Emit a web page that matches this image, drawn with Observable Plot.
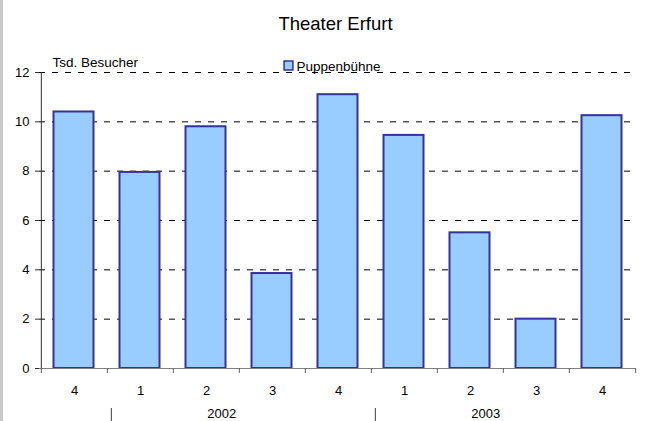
<!DOCTYPE html>
<html>
<head>
<meta charset="utf-8">
<script src="https://cdn.jsdelivr.net/npm/d3@7"></script>
<script src="https://cdn.jsdelivr.net/npm/@observablehq/plot@0.6"></script>
<style>
  html, body { margin: 0; padding: 0; background: #fff; }
  #wrap { position: relative; width: 666px; height: 421px; overflow: hidden; }
  #edge { position: absolute; left: 0; top: 0; width: 3px; height: 421px; background: #c8c8c8; }
</style>
</head>
<body>
<div id="wrap"><div id="edge"></div></div>
<script>
// ---- data ----
const quarters = ["4", "1", "2", "3", "4", "1", "2", "3", "4"];
const years = ["2001", "2002", "2002", "2002", "2002", "2003", "2003", "2003", "2003"];
const visitors = [10.4, 7.95, 9.8, 3.85, 11.1, 9.45, 5.5, 2.0, 10.25];
const yearLabels = ["2002", "2003"];
const yTicks = [0, 2, 4, 6, 8, 10, 12];
const title = "Theater Erfurt";
const seriesName = "Puppenbühne";
const yLabel = "Tsd. Besucher";

// ---- layout ----
const W = 666, H = 421;
const mL = 39, mR = 30, mT = 72, mB = 53;
const keys = quarters.map((q, i) => `${years[i]}-Q${q}`);
const step = (W - mL - mR) / keys.length;
const data = keys.map((k, i) => ({key: k, q: quarters[i], value: visitors[i]}));
const qOf = new Map(data.map(d => [d.key, d.q]));

// each year label sits near the middle of its quarters (group of 4 -> boundary after 2nd)
const yearGroups = yearLabels.map(y => {
  const idx = years.map((v, i) => v === y ? i : -1).filter(i => i >= 0);
  const c = idx[0] + (idx.length - 1) / 2;
  return {year: y, first: keys[idx[0]], key: keys[Math.floor(c)]};
});

const fill = "#99ccff", stroke = "#333399";
const font = "Liberation Sans, Arial, Helvetica, sans-serif";

const chart = Plot.plot({
  width: W, height: H,
  marginLeft: mL, marginRight: mR, marginTop: mT, marginBottom: mB,
  style: {fontFamily: font, fontSize: "13px", color: "#000", background: "transparent", overflow: "visible"},
  x: {type: "band", domain: keys, padding: 0},
  y: {domain: [0, 12]},
  marks: [
    Plot.gridY(yTicks.filter(t => t > 0), {stroke: "#000", strokeOpacity: 1, strokeDasharray: "6,7"}),
    Plot.barY(data, {x: "key", y: "value", fill, stroke, strokeWidth: 2, insetLeft: 12.5, insetRight: 13.5}),
    Plot.ruleY([0], {stroke: "#808080"}),
    Plot.ruleX([keys[0]], {dx: -step / 2, y1: 0, y2: 12, stroke: "#303030"}),
    Plot.ruleX(keys, {dx: -step / 2, y1: 0, y2: 0, insetBottom: -5, stroke: "#606060"}),
    Plot.ruleX([keys[keys.length - 1]], {dx: step / 2, y1: 0, y2: 0, insetBottom: -5, stroke: "#606060"}),
    Plot.axisY(yTicks, {tickSize: 4, tickPadding: 6, fontSize: 13, label: null, stroke: "#303030", color: "#000"}),
    Plot.axisX({tickSize: 0, tickPadding: 17, fontSize: 13, label: null, tickFormat: k => qOf.get(k)}),
    Plot.text(yearGroups, {x: "key", y: () => 0, text: "year", dx: step / 2 - 18, dy: 49.5, lineAnchor: "bottom", fontSize: 13}),
    Plot.ruleX(yearGroups, {x: "first", dx: -step / 2 + 4, y1: 0, y2: 0, insetTop: 40, insetBottom: -53, stroke: "#404040"}),
    Plot.text([title], {text: d => d, frameAnchor: "top", dx: -2.5, dy: -42.6, lineAnchor: "bottom", fontSize: 18.5}),
    Plot.dot([seriesName], {frameAnchor: "top-left", dx: 249, dy: -7, symbol: "square", r: 5, fill, stroke, strokeWidth: 1.5}),
    Plot.text([seriesName], {text: d => d, frameAnchor: "top-left", dx: 257, dy: -2, textAnchor: "start", lineAnchor: "bottom", fontSize: 13.5}),
    Plot.text([yLabel], {text: d => d, frameAnchor: "top-left", dx: 13, dy: -5.5, textAnchor: "start", lineAnchor: "bottom", fontSize: 13.5})
  ]
});
document.getElementById("wrap").appendChild(chart);
</script>
</body>
</html>
